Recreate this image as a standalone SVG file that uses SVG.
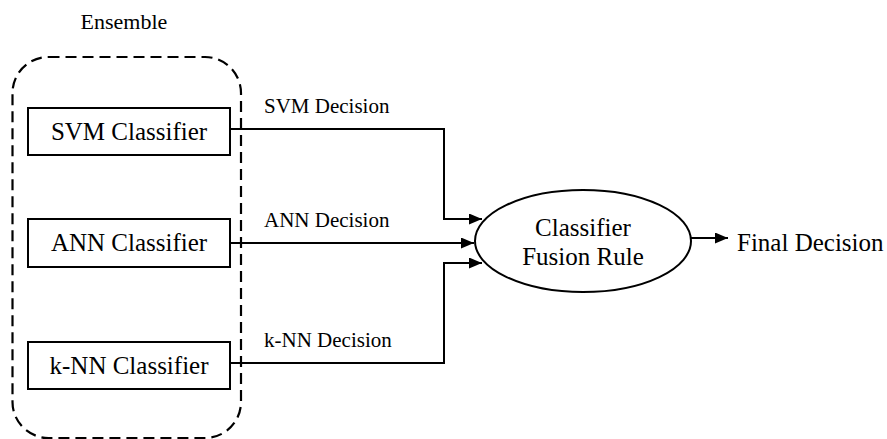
<svg xmlns="http://www.w3.org/2000/svg" width="887" height="439" viewBox="0 0 887 439">
  <style>
    .box { fill: #fff; stroke: #000; stroke-width: 2; }
    .group { fill: none; stroke: #000; stroke-width: 2.2; stroke-dasharray: 11 6; }
    text { font-family: 'Liberation Serif', Tinos, 'DejaVu Serif', 'Times New Roman', serif; fill: #000; }
    .node { font-size: 25px; text-anchor: middle; }
    .edge { font-size: 21px; }
    .wire { fill: none; stroke: #000; stroke-width: 2; }
  </style>
  <defs>
    <marker id="arrow" viewBox="0 0 13 11" refX="13" refY="5.5" markerWidth="13" markerHeight="11" markerUnits="userSpaceOnUse" orient="auto">
      <path d="M0,0 L13,5.5 L0,11 Z" fill="#000"/>
    </marker>
  </defs>

  <rect id="white" x="0" y="0" width="887" height="439" fill="#fff"/>

  <!-- ensemble boundary -->
  <g id="ensemble">
    <rect class="group" x="12.5" y="57" width="228.5" height="381" rx="36" ry="36"/>
    <text x="124" y="29" font-size="22" text-anchor="middle" font-family="Liberation Serif, serif">Ensemble</text>
  </g>

  <!-- connectors -->
  <g id="connectors">
    <path class="wire" d="M230,129 H444 V219 H482" marker-end="url(#arrow)"/>
    <path class="wire" d="M230,243 H474" marker-end="url(#arrow)"/>
    <path class="wire" d="M230,363 H444 V263 H482" marker-end="url(#arrow)"/>
    <path class="wire" d="M691,238 H728" marker-end="url(#arrow)"/>
    <text class="edge" x="264" y="113" font-family="Liberation Serif, serif">SVM Decision</text>
    <text class="edge" x="264" y="227" font-family="Liberation Serif, serif">ANN Decision</text>
    <text class="edge" x="264" y="347" font-family="Liberation Serif, serif">k-NN Decision</text>
  </g>

  <g id="svm">
    <rect class="box" x="28" y="108" width="202" height="47"/>
    <text class="node" x="129" y="140" font-family="Liberation Serif, serif">SVM Classifier</text>
  </g>
  <g id="ann">
    <rect class="box" x="28" y="219" width="202" height="48"/>
    <text class="node" x="129" y="251" font-family="Liberation Serif, serif">ANN Classifier</text>
  </g>
  <g id="knn">
    <rect class="box" x="28" y="342" width="202" height="47"/>
    <text class="node" x="129" y="374" font-family="Liberation Serif, serif">k-NN Classifier</text>
  </g>

  <g id="fusion">
    <ellipse class="box" cx="583" cy="241" rx="108" ry="51"/>
    <text class="node" x="583" y="236" font-family="Liberation Serif, serif">Classifier</text>
    <text class="node" x="583" y="265" font-family="Liberation Serif, serif">Fusion Rule</text>
  </g>

  <g id="final">
    <text x="737" y="251" font-size="25" font-family="Liberation Serif, serif">Final Decision</text>
  </g>
</svg>
